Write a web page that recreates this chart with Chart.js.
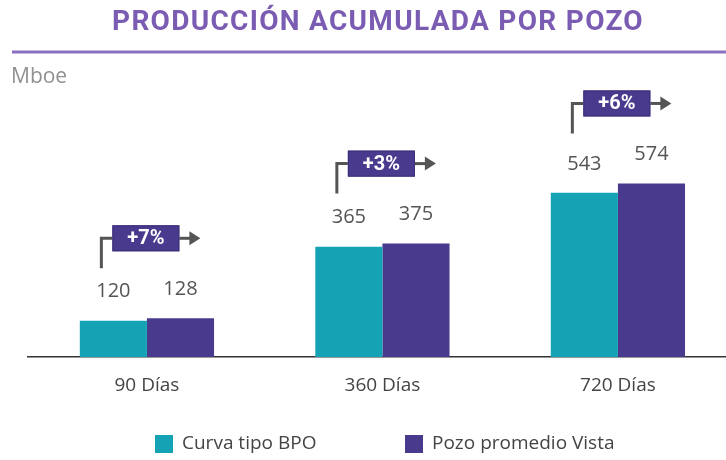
<!DOCTYPE html>
<html><head><meta charset="utf-8">
<script src="https://cdn.jsdelivr.net/npm/chart.js@4.4.1/dist/chart.umd.min.js"></script>
<style>html,body{margin:0;padding:0;background:#fff}#wrap{width:726px;height:460px;position:relative}</style>
</head><body><div id="wrap"><canvas id="c" width="726" height="460"></canvas></div>
<script>
const titleText = 'PRODUCCIÓN ACUMULADA POR POZO';
const unitText = 'Mboe';
const categories = ['90 Días', '360 Días', '720 Días'];
const seriesNames = ['Curva tipo BPO', 'Pozo promedio Vista'];
const curvaBPO = [120, 365, 543];
const pozoVista = [128, 375, 574];
const pctLabels = ['+7%', '+3%', '+6%'];

const TEAL = '#13a3b4';
const PURPLE = '#4a3a8e';
const FONT = "'Open Sans', 'Noto Sans', sans-serif";
const TFONT = "'Liberation Sans Narrow', 'Roboto', sans-serif";

const deco = {
  id: 'deco',
  afterDraw(chart) {
    const ctx = chart.ctx;
    const m0 = chart.getDatasetMeta(0), m1 = chart.getDatasetMeta(1);
    ctx.save();
    // title
    ctx.fillStyle = '#7b5cb3';
    ctx.font = "bold 28px " + TFONT;
    ctx.letterSpacing = '1.3px';
    ctx.textAlign = 'center'; ctx.textBaseline = 'middle';
    ctx.fillText(titleText, 378, 23);
    ctx.letterSpacing = '0px';
    // rule
    ctx.strokeStyle = '#8a70c2'; ctx.lineWidth = 3;
    ctx.beginPath(); ctx.moveTo(12, 52); ctx.lineTo(726, 52); ctx.stroke();
    // unit
    ctx.fillStyle = '#909090'; ctx.font = "21px " + FONT;
    ctx.textAlign = 'left'; ctx.fillText(unitText, 11, 77);
    // value labels
    ctx.fillStyle = '#555'; ctx.font = "20px " + FONT; ctx.textAlign = 'center';
    [m0, m1].forEach((m, di) => {
      m.data.forEach((bar, i) => {
        const v = chart.data.datasets[di].data[i].y;
        ctx.fillText(String(v), bar.x, bar.y - 29);
      });
    });
    // brackets
    m0.data.forEach((bar, i) => {
      const tx = bar.x;
      const py = m1.data[i].y;
      const cy = py - 80;
      const vx = tx - 12;
      const bl = tx - 1, bw = 67, bh = 26;
      ctx.strokeStyle = '#555'; ctx.lineWidth = 3;
      ctx.beginPath(); ctx.moveTo(vx, cy + 30); ctx.lineTo(vx, cy); ctx.lineTo(bl, cy); ctx.stroke();
      ctx.beginPath(); ctx.moveTo(bl + bw, cy); ctx.lineTo(bl + bw + 12, cy); ctx.stroke();
      ctx.fillStyle = '#555';
      ctx.beginPath(); ctx.moveTo(bl + bw + 10, cy - 7); ctx.lineTo(bl + bw + 21, cy); ctx.lineTo(bl + bw + 10, cy + 7); ctx.closePath(); ctx.fill();
      ctx.fillStyle = PURPLE; ctx.fillRect(bl, cy - bh / 2, bw, bh);
      ctx.strokeStyle = '#3a2d75'; ctx.lineWidth = 1; ctx.strokeRect(bl + 0.5, cy - bh / 2 + 0.5, bw - 1, bh - 1);
      ctx.fillStyle = '#fff'; ctx.font = "bold 20px " + TFONT; ctx.textAlign = 'center';
      ctx.fillText(pctLabels[i], bl + bw / 2, cy + 1);
    });
    // legend
    ctx.font = "19px " + FONT; ctx.textAlign = 'left';
    const items = [[155, TEAL], [405, PURPLE]];
    items.forEach(([x, col], k) => {
      ctx.fillStyle = col; ctx.fillRect(x, 435, 18, 18);
      ctx.fillStyle = '#444'; ctx.fillText(seriesNames[k], x + 27, 444);
    });
    ctx.restore();
  }
};

const toPts = arr => arr.map((y, i) => ({ x: i, y }));

new Chart(document.getElementById('c'), {
  type: 'bar',
  data: {
    datasets: [
      { label: seriesNames[0], data: toPts(curvaBPO), backgroundColor: TEAL },
      { label: seriesNames[1], data: toPts(pozoVista), backgroundColor: PURPLE }
    ]
  },
  options: {
    responsive: false, animation: false,
    categoryPercentage: 0.57, barPercentage: 1.0,
    layout: { padding: { left: 28, right: 0, top: 100, bottom: 43 } },
    plugins: { legend: { display: false }, tooltip: { enabled: false }, title: { display: false } },
    scales: {
      x: {
        type: 'linear', min: -0.505, max: 2.459, offset: false,
        grid: { display: false, drawTicks: false },
        border: { display: true, color: '#333', width: 1.5 },
        afterBuildTicks: s => { s.ticks = categories.map((c, i) => ({ value: i })); },
        afterFit: s => { s.height = 60; },
        ticks: { color: '#444', font: { family: FONT, size: 19 }, padding: 17, maxRotation: 0, autoSkip: false,
          callback: v => categories[v] }
      },
      y: { display: false, min: 0, max: 850 }
    }
  },
  plugins: [deco]
});
</script></body></html>
